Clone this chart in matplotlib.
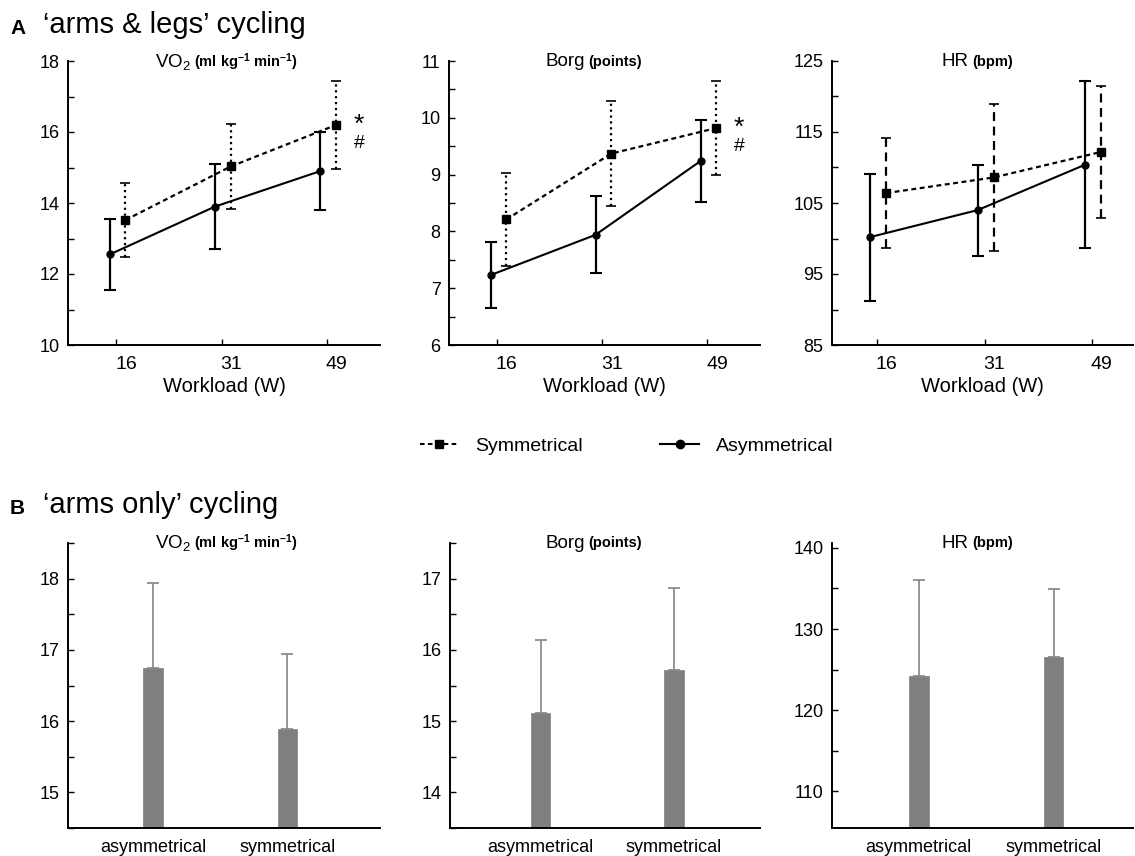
import matplotlib
matplotlib.use("Agg")
import matplotlib.pyplot as plt
import numpy as np
from matplotlib.lines import Line2D
from matplotlib.ticker import FixedLocator

plt.rcParams['font.family'] = ['Liberation Sans', 'DejaVu Sans']
plt.rcParams['mathtext.default'] = 'regular'

# ---------------- data ----------------
workloads = ['16', '31', '49']

vo2_asym = [12.55, 13.9, 14.9]
vo2_asym_sd = [1.0, 1.2, 1.1]
vo2_sym = [13.52, 15.03, 16.2]
vo2_sym_sd = [1.03, 1.2, 1.23]

borg_asym = [7.23, 7.94, 9.24]
borg_asym_sd = [0.58, 0.68, 0.73]
borg_sym = [8.21, 9.37, 9.82]
borg_sym_sd = [0.82, 0.93, 0.83]

hr_asym = [100.2, 104.0, 110.4]
hr_asym_sd = [8.95, 6.4, 11.8]
hr_sym = [106.4, 108.6, 112.2]
hr_sym_sd = [7.7, 10.4, 9.3]

groups = ['asymmetrical', 'symmetrical']
arms_vo2 = [16.75, 15.89]
arms_vo2_sd = [1.19, 1.05]
arms_borg = [15.12, 15.72]
arms_borg_sd = [1.02, 1.15]
arms_hr = [124.2, 126.5]
arms_hr_sd = [11.8, 8.4]

# ---------------- figure ----------------
W, H = 1135, 856
fig = plt.figure(figsize=(W / 100, H / 100), dpi=100)


def rect(left, right, top, bottom):
    return [left / W, 1 - bottom / H, (right - left) / W, (bottom - top) / H]


def style_axes(ax):
    for s in ('top', 'right'):
        ax.spines[s].set_visible(False)
    for s in ('left', 'bottom'):
        ax.spines[s].set_linewidth(1.4)
    ax.tick_params(axis='y', which='both', direction='in', length=4, width=1, labelsize=13, pad=6)


def set_yticks(ax, lo, hi, maj, mnr, start):
    ax.yaxis.set_major_locator(FixedLocator(np.arange(start, hi + 1e-9, maj)))
    ax.yaxis.set_minor_locator(FixedLocator(np.arange(lo, hi + 1e-9, mnr)))


def two_part_title(ax, xsplit, main, unit, y=0.997):
    ax.text(xsplit, y, main, transform=ax.transAxes, ha='right', va='center', fontsize=13.5)
    ax.text(xsplit + 0.01, y, unit, transform=ax.transAxes, ha='left', va='center',
            fontsize=10.5, fontweight='bold')


xpos = list(range(len(workloads)))
asym_x = [x - 0.065 for x in xpos]
sym_x = [x + 0.085 for x in xpos]

panelsA = [
    (rect(68, 380, 61, 345), vo2_asym, vo2_asym_sd, vo2_sym, vo2_sym_sd, (10, 18), 2, 1, 10,
     (-0.46, 2.5), ':', 0.394, 'VO$_2$', '(ml kg$^{-1}$ min$^{-1}$)', True),
    (rect(449, 760, 61, 345), borg_asym, borg_asym_sd, borg_sym, borg_sym_sd, (6, 11), 1, 0.5, 6,
     (-0.46, 2.5), ':', 0.437, 'Borg', '(points)', True),
    (rect(832, 1133, 61, 345), hr_asym, hr_asym_sd, hr_sym, hr_sym_sd, (85, 125), 10, 5, 85,
     (-0.42, 2.38), (0, (4, 2.5)), 0.455, 'HR', '(bpm)', False),
]

for (r, a, asd, s, ssd, ylim, maj, mnr, start, xlim, sym_err_ls, xs, main, unit, star) in panelsA:
    ax = fig.add_axes(r)
    style_axes(ax)
    ax.set_ylim(*ylim)
    ax.set_xlim(*xlim)
    set_yticks(ax, ylim[0], ylim[1], maj, mnr, start)
    # asymmetrical
    ax.errorbar(asym_x, a, yerr=asd, color='black', lw=1.5, marker='o', ms=5,
                capsize=4.5, capthick=1.5, elinewidth=1.6, zorder=3)
    # symmetrical
    eb2 = ax.errorbar(sym_x, s, yerr=ssd, color='black', lw=1.6, marker='s', ms=5.5,
                      capsize=3.5, capthick=1.2, elinewidth=1.6, zorder=3,
                      dashes=(2.2, 1.6))
    for lc in eb2[2]:
        lc.set_linestyle(sym_err_ls)
    # x ticks: marks at category, labels slightly right
    ax.xaxis.set_major_locator(FixedLocator([x + 0.09 for x in xpos]))
    ax.set_xticklabels(workloads)
    ax.xaxis.set_minor_locator(FixedLocator(xpos))
    ax.tick_params(axis='x', which='major', length=0, labelsize=14, pad=8)
    ax.tick_params(axis='x', which='minor', direction='in', length=4, width=1)
    ax.set_xlabel('Workload (W)', fontsize=14.5, labelpad=3)
    two_part_title(ax, xs, main, unit)
    if star:
        ax.text(2.3, s[2], '*', fontsize=19, ha='center', va='center')
        ax.text(2.3, s[2] - (ylim[1] - ylim[0]) * 0.065, '#', fontsize=14, ha='center', va='center')

# ---------------- panel B ----------------
bx = list(range(len(groups)))
panelsB = [
    (rect(68, 380, 543, 828), arms_vo2, arms_vo2_sd, (14.5, 18.5), 1, 0.5, 15, (-0.634, 1.69),
     0.394, 'VO$_2$', '(ml kg$^{-1}$ min$^{-1}$)'),
    (rect(450, 760, 543, 828), arms_borg, arms_borg_sd, (13.5, 17.5), 1, 0.5, 14, (-0.68, 1.645),
     0.437, 'Borg', '(points)'),
    (rect(832, 1133, 543, 828), arms_hr, arms_hr_sd, (105.5, 140.6), 10, 5, 110, (-0.644, 1.59),
     0.455, 'HR', '(bpm)'),
]

for (r, v, vsd, ylim, maj, mnr, start, xlim, xs, main, unit) in panelsB:
    ax = fig.add_axes(r)
    style_axes(ax)
    ax.bar(bx, v, width=0.145, color='#7f7f7f', edgecolor='#8a8a8a', linewidth=0.6,
           bottom=0, zorder=2)
    ax.errorbar(bx, v, yerr=[[0] * len(vsd), vsd], fmt='none', ecolor='#8c8c8c',
                elinewidth=1.3, capsize=4.5, capthick=1.3, zorder=1)
    ax.set_ylim(*ylim)
    ax.set_xlim(*xlim)
    ax.yaxis.set_major_locator(FixedLocator(np.arange(start, ylim[1] + 1e-9, maj)))
    ax.yaxis.set_minor_locator(FixedLocator(np.arange(start - mnr, ylim[1] + 1e-9, mnr)))
    ax.set_xticks(bx)
    ax.set_xticklabels(groups)
    ax.tick_params(axis='x', which='major', direction='in', length=3, width=1, labelsize=13, pad=8)
    two_part_title(ax, xs, main, unit, y=1.0)

# ---------------- legend ----------------
h_sym = Line2D([], [], color='black', marker='s', ms=6, lw=1.5, dashes=(2.2, 1.6))
h_asym = Line2D([], [], color='black', marker='o', ms=6, lw=1.5)
fig.legend([h_sym, h_asym], ['Symmetrical', 'Asymmetrical'], loc='center',
           bbox_to_anchor=(0.552, 1 - 446 / H), ncol=2, frameon=False, fontsize=14,
           handlelength=2.0, columnspacing=4.0, handletextpad=0.85)

# ---------------- section labels ----------------
fig.text(10 / W, 1 - 34 / H, 'A', fontsize=15, fontweight='bold', va='baseline')
fig.text(43 / W, 1 - 33 / H, '\u2018arms & legs\u2019 cycling', fontsize=21, va='baseline')
fig.text(10 / W, 1 - 514 / H, 'B', fontsize=15, fontweight='bold', va='baseline')
fig.text(43 / W, 1 - 513 / H, '\u2018arms only\u2019 cycling', fontsize=21, va='baseline')

fig.savefig('out.png', dpi=100)
